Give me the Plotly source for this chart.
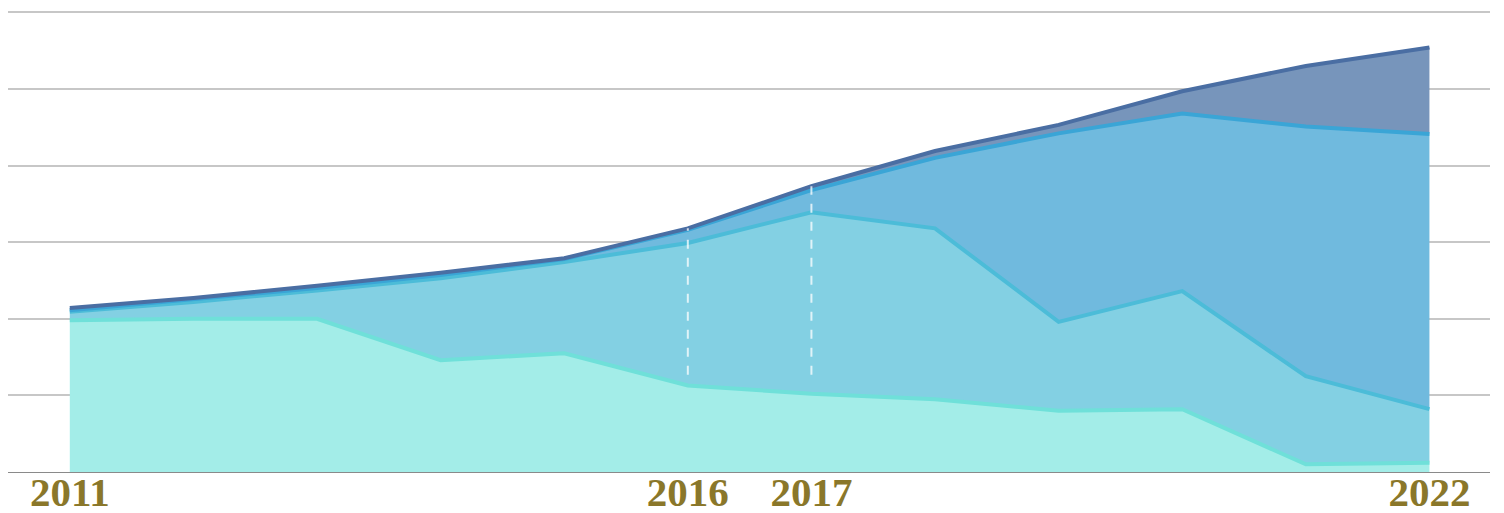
import plotly.graph_objects as go

years = list(range(2011, 2023))
label_years = [2011, 2016, 2017, 2022]

series_a = [1.98, 2.00, 2.00, 1.46, 1.55, 1.13, 1.02, 0.95, 0.80, 0.82, 0.10, 0.12]
series_b = [0.11, 0.22, 0.37, 1.07, 1.19, 1.86, 2.37, 2.23, 1.16, 1.54, 1.15, 0.70]
series_c = [0.02, 0.03, 0.03, 0.04, 0.04, 0.17, 0.29, 0.92, 2.46, 2.32, 3.26, 3.59]
series_d = [0.03, 0.02, 0.03, 0.03, 0.01, 0.02, 0.05, 0.09, 0.11, 0.29, 0.79, 1.13]

marker_years = [2016, 2017]
marker_floor = 1.27

fills = ["#a3ede8", "#83d0e3", "#70bade", "#7795bb"]
lines = ["#6fe0d9", "#4cbcd8", "#3aa5d6", "#4a6ea3"]
names = ["A", "B", "C", "D"]

fig = go.Figure()
for vals, fc, lc, nm in zip([series_a, series_b, series_c, series_d], fills, lines, names):
    fig.add_trace(go.Scatter(
        x=years, y=vals, name=nm, mode="lines", stackgroup="one",
        line=dict(color=lc, width=4), fillcolor=fc, hoverinfo="x+y",
    ))

totals = [a + b + c + d for a, b, c, d in zip(series_a, series_b, series_c, series_d)]
for yr in marker_years:
    i = years.index(yr)
    fig.add_shape(type="line", xref="x", yref="y", x0=yr, x1=yr,
                  y0=marker_floor, y1=totals[i],
                  line=dict(color="rgba(255,255,255,0.75)", width=2, dash="dash"),
                  layer="above")

ticktext = [str(y) if y in label_years else "" for y in years]

fig.update_layout(
    width=1504, height=513,
    margin=dict(l=0, r=22, t=2, b=49, autoexpand=False),
    paper_bgcolor="white", plot_bgcolor="white",
    showlegend=False,
    xaxis=dict(
        range=[2010.5, 2022.49], tickvals=years, ticktext=ticktext,
        showgrid=True, gridcolor="rgba(255,255,255,0.3)", gridwidth=1,
        layer="above traces", ticks="", showline=True, linecolor="#8a8a8a", linewidth=1,
        zeroline=False, automargin=False, ticklabelstandoff=-16,
        tickfont=dict(family="Liberation Serif", size=41, color="#8a772a", weight="bold"),
    ),
    yaxis=dict(
        range=[0, 6.03], tickvals=[0, 1, 2, 3, 4, 5, 6], showticklabels=False, showgrid=True,
        gridcolor="rgba(0,0,0,0.22)", gridwidth=1.5, zeroline=False, layer="above traces",
        automargin=False,
    ),
)

fig.write_html("out.html")
